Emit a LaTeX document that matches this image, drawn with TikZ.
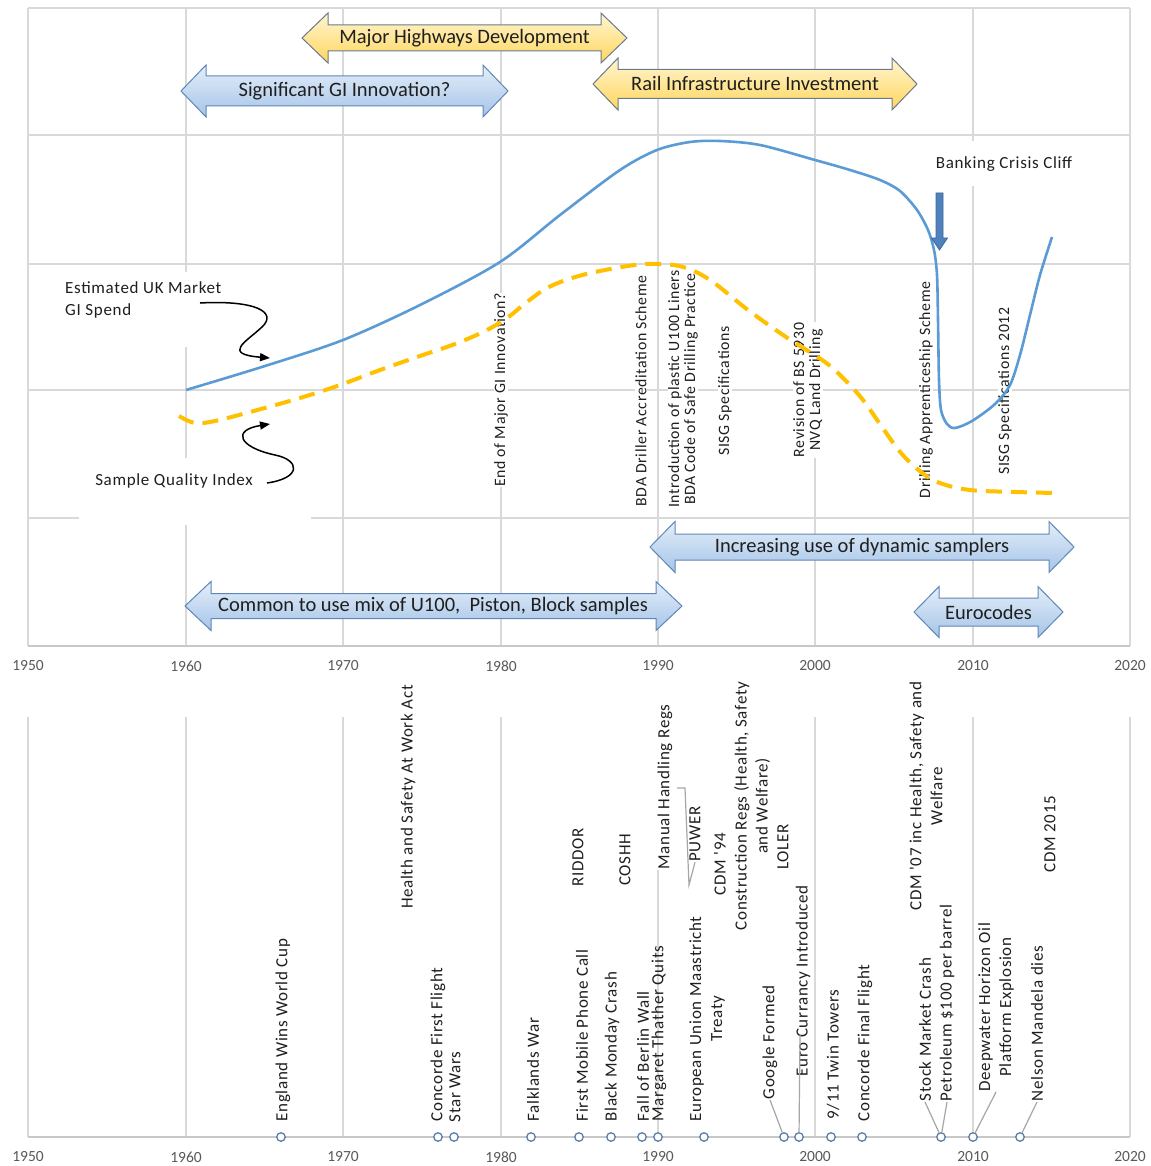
\documentclass[tikz,border=0pt]{standalone}
\usepackage{fontspec}
\setmainfont{Carlito}
\newfontfamily\lblfont[LetterSpace=4]{Carlito}
\usetikzlibrary{arrows.meta}
\definecolor{gridc}{HTML}{D9D9D9}
\definecolor{axisc}{HTML}{C8C8C8}
\definecolor{yeartxt}{HTML}{595959}
\definecolor{spendblue}{HTML}{5B9BD5}
\definecolor{qualgold}{HTML}{FFC000}
\definecolor{bluetop}{HTML}{E4EEF9}
\definecolor{bluebot}{HTML}{A5C4E8}
\definecolor{blueedge}{HTML}{5E87B8}
\definecolor{goldtop}{HTML}{FFF5D2}
\definecolor{goldbot}{HTML}{FFD65C}
\definecolor{goldedge}{HTML}{6B7B8C}
\definecolor{markc}{HTML}{5A7FA8}
\definecolor{leadc}{HTML}{A6A6A6}
\definecolor{txtc}{HTML}{1F1F1F}
\definecolor{cliffblue}{HTML}{4F81BD}
\definecolor{cliffedge}{HTML}{3D6A9E}
% #1 style, #2 left tip x, #3 right tip x, #4 centre y, #5 body half height, #6 head half height, #7 head length
\newcommand\blockarrow[7]{%
  \path[#1] (#2,#4) -- ({#2+#7},{#4-#6}) -- ({#2+#7},{#4-#5}) -- ({#3-#7},{#4-#5})
   -- ({#3-#7},{#4-#6}) -- (#3,#4) -- ({#3-#7},{#4+#6}) -- ({#3-#7},{#4+#5})
   -- ({#2+#7},{#4+#5}) -- ({#2+#7},{#4+#6}) -- cycle;}
\begin{document}
\begin{tikzpicture}[x=1pt,y=-1pt,
  gridln/.style={draw=gridc, line width=1.3pt},
  axisln/.style={draw=axisc, line width=2pt},
  yearlbl/.style={font=\fontsize{15.5}{18}\selectfont, text=yeartxt, inner sep=0pt},
  toplbl/.style={font=\lblfont\fontsize{15.8}{16}\selectfont, text=txtc, fill=white, inner sep=0.5pt, rotate=90, align=center},
  reglbl/.style={font=\lblfont\fontsize{17}{21}\selectfont, text=txtc, fill=white, inner sep=0.5pt, rotate=90, align=center},
  evlbl/.style={font=\lblfont\fontsize{17}{21}\selectfont, text=txtc, inner sep=0.5pt, rotate=90, align=center, anchor=west},
  plainlbl/.style={font=\lblfont\fontsize{17}{22}\selectfont, text=txtc, align=left, inner sep=0pt},
  bluearr/.style={top color=bluetop, bottom color=bluebot, draw=blueedge, line width=1pt},
  goldarr/.style={top color=goldtop, bottom color=goldbot, draw=goldedge, line width=1pt},
  arrtxt/.style={font=\fontsize{20.5}{24}\selectfont, text=txtc, inner sep=0pt},
  spend/.style={draw=spendblue, line width=2.6pt},
  quality/.style={draw=qualgold, line width=4pt, dash pattern=on 16pt off 9pt},
  callout/.style={draw=black, line width=1.5pt, -{Triangle[length=10pt,width=8pt]}},
  mk/.style={circle, draw=markc, fill=white, line width=1.3pt, minimum size=8.5pt, inner sep=0pt},
  lead/.style={draw=leadc, line width=1.2pt},
]
\path[fill=white] (0,0) rectangle (1150,1166);
\useasboundingbox (0,0) rectangle (1150,1166);

% ---------- top chart grid ----------
\foreach \yy in {8,135,264,390,518} \draw[gridln] (28,\yy) -- (1130,\yy);
\foreach \xx in {28,186,343,501,658,815,973,1130} \draw[gridln] (\xx,8) -- (\xx,646);
\draw[axisln] (28,646) -- (1130,646);
\foreach \xx/\yr in {28/1950,186/1960,343/1970,501/1980,658/1990,815/2000,973/2010,1130/2020}
  \node[yearlbl] (ty\yr) at (\xx,666) {\yr};

% ---------- bottom chart grid ----------
\foreach \xx in {28,186,343,501,658,815,973,1130} \draw[gridln] (\xx,717) -- (\xx,1137);
\draw[axisln] (28,1137) -- (1130,1137);
\foreach \xx/\yr in {28/1950,186/1960,343/1970,501/1980,658/1990,815/2000,973/2010,1130/2020}
  \node[yearlbl] (by\yr) at (\xx,1157) {\yr};

% ---------- top chart labels ----------
\fill[white] (55,272) rectangle (240,347);
\node[plainlbl, anchor=north west] (spendlbl) at (65,281) {Estimated UK Market\\GI Spend};
\fill[white] (79,458) rectangle (311,525);
\node[plainlbl] (quallbl) at (174,481) {Sample Quality Index};
\node[plainlbl, fill=white, minimum height=45pt, minimum width=160pt, align=center] (cliff) at (1004,164) {Banking Crisis Cliff};

\node[toplbl] (endgi) at (501,390) {End of Major GI Innovation?};
\node[toplbl] (bdadas) at (641,391) {BDA Driller Accreditation Scheme};
\node[toplbl] (u100) at (683,389) {Introduction of plastic U100 Liners\\BDA Code of Safe Drilling Practice};
\node[toplbl] (sisg) at (725,391) {SISG Specifications};
\node[toplbl] (bs5930) at (808,390) {Revision of BS 5930\\NVQ Land Drilling};
\node[toplbl] (appr) at (926,390) {Drilling Apprenticeship Scheme};
\node[toplbl] (sisg12) at (1005,391) {SISG Specifications 2012};

% ---------- curves ----------
\draw[quality] plot[smooth, tension=0.6] coordinates {(179,416) (195,423) (215,421) (250,412) (300,398) (340,385) (380,370) (420,356) (455,344) (485,331) (507,318) (527,302) (547,288) (572,278) (600,271) (635,265) (657,264) (683,267) (710,280) (748,310) (786,337) (825,362) (845,380) (863,400) (882,427) (901,453) (921,472) (940,483) (970,490) (1016,492) (1055,493)};
\draw[spend] plot[smooth, tension=0.5] coordinates {(186,390) (265,366) (343,340) (420,305) (500,262) (560,215) (620,170) (657,150) (690,142) (720,141) (760,145) (815,160) (850,170) (880,180) (900,191) (917,210) (928,230) (934,250) (937,275) (938,320) (939,380) (941,410) (947,424) (955,428) (972,421) (995,404) (1010,385) (1020,355) (1030,315) (1040,275) (1052,237)};

% ---------- callout arrows ----------
\coordinate (spendfrom) at (200,303);
\coordinate (spendto) at (270,358);
\draw[callout] (spendfrom) .. controls (255,300) and (278,312) .. (262,327) .. controls (246,342) and (222,354) .. (spendto);
\coordinate (qualfrom) at (267,483);
\coordinate (qualto) at (270,424);
\draw[callout] (qualfrom) .. controls (302,478) and (300,460) .. (275,455) .. controls (238,447) and (232,430) .. (qualto);

% banking crisis arrow
\path[fill=cliffblue, draw=cliffedge, line width=0.8pt] (936,193) -- (943,193) -- (943,238) -- (947.5,238) -- (939.5,250) -- (931.5,238) -- (936,238) -- cycle;

% ---------- block arrows ----------
\blockarrow{goldarr}{302}{627}{38}{13}{25}{26}
\node[arrtxt] (mhd) at (464.5,38) {Major Highways Development};
\blockarrow{bluearr}{181}{508}{91}{15}{26}{25}
\node[arrtxt] (sgi) at (344.5,91) {Significant GI Innovation?};
\blockarrow{goldarr}{593}{917}{84}{14.5}{26}{25}
\node[arrtxt] (rii) at (755,83) {Rail Infrastructure Investment};
\blockarrow{bluearr}{650}{1074}{547}{13}{25.5}{25}
\node[arrtxt] (incr) at (862,547) {Increasing use of dynamic samplers};
\blockarrow{bluearr}{185}{682}{606}{12.5}{24.5}{26}
\node[arrtxt] (common) at (433,606) {Common to use mix of U100, ~Piston, Block samples};
\blockarrow{bluearr}{914}{1063}{612}{14}{25.5}{25}
\node[arrtxt] (eurocodes) at (988.5,612) {Eurocodes};

% ---------- bottom chart: regulations ----------
\node[reglbl] (hswa) at (408,797) {Health and Safety At Work Act};
\node[reglbl] (riddor) at (578,857) {RIDDOR};
\node[reglbl] (coshh) at (625,860) {COSHH};
\node[reglbl] (mhr) at (665,787) {Manual Handling Regs};
\node[reglbl] (puwer) at (695,834) {PUWER};
\node[reglbl] (cdm94) at (720,864) {CDM '94};
\node[reglbl] (conregs) at (752,806) {Construction Regs (Health, Safety\\and Welfare)};
\node[reglbl] (loler) at (783,847) {LOLER};
\node[reglbl] (cdm07) at (926,796) {CDM '07 inc Health, Safety and\\Welfare};
\node[reglbl] (cdm15) at (1050,834) {CDM 2015};
\coordinate (pwtop) at (677,788);
\draw[lead] (pwtop) -- ++(8,0) -- ++(4,97) -- (puwer.west);

% ---------- bottom chart: events ----------
\node[evlbl] (wc) at (283,1122) {England Wins World Cup};
\node[evlbl] (conc1) at (438,1122) {Concorde First Flight};
\node[evlbl] (starw) at (455,1123) {Star Wars};
\node[evlbl] (falk) at (533,1122) {Falklands War};
\node[evlbl] (mobile) at (582,1122) {First Mobile Phone Call};
\node[evlbl] (bmon) at (612,1122) {Black Monday Crash};
\node[evlbl] (berlin) at (643,1122) {Fall of Berlin Wall};
\node[evlbl] (thatch) at (659,1122) {Margaret Thather Quits};
\node[evlbl] (maas) at (707,1122) {European Union Maastricht\\Treaty};
\node[evlbl] (google) at (770,1100) {Google Formed};
\node[evlbl] (euro) at (803,1077) {Euro Currancy Introduced};
\node[evlbl] (twin) at (833,1120) {9/11 Twin Towers};
\node[evlbl] (conc2) at (865,1122) {Concorde Final Flight};
\node[evlbl] (stock) at (925,1102) {Stock Market Crash};
\node[evlbl] (petrol) at (947,1102) {Petroleum \$100 per barrel};
\node[evlbl] (deep) at (996,1092) {Deepwater Horizon Oil\\Platform Explosion};
\node[evlbl] (mandela) at (1037,1102) {Nelson Mandela dies};

\foreach \xx/\nm in {281/m66,438/m76,454/m77,531/m82,579/m85,611/m87,642/m89,658/m90,704/m93,784/m98,799/m99,831/m01,862/m03,941/m08,973/m10,1020/m13}
  \node[mk] (\nm) at (\xx,1137) {};

\coordinate (eurotop) at (800,1035);
\begin{scope}[on background layer/.style={}]
\draw[lead] (m98) -- (google.west);
\draw[lead] (m99) -- (eurotop);
\draw[lead] (m08) -- (stock.west);
\draw[lead] (m08) -- (petrol.west);
\draw[lead] (m10) -- (deep.west);
\draw[lead] (m13) -- (mandela.west);
\end{scope}
\end{tikzpicture}
\end{document}
